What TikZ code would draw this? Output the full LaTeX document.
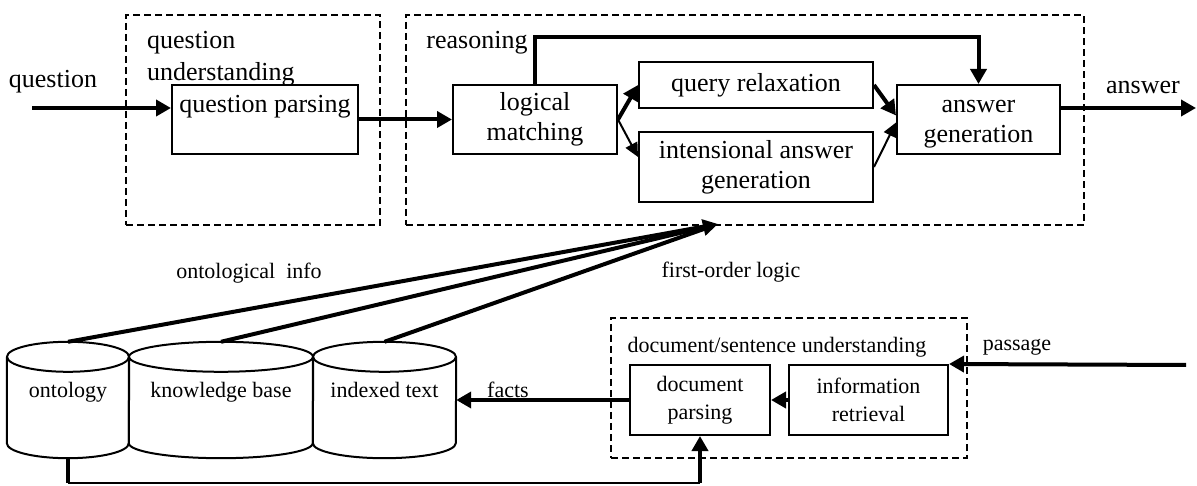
\documentclass[tikz,border=0pt]{standalone}
\usepackage{fontspec}
\setmainfont{Liberation Serif}
\usetikzlibrary{arrows.meta,calc}
\begin{document}
\begin{tikzpicture}[x=1pt,y=1pt,
  bigtext/.style={font=\fontsize{26}{30}\selectfont},
  smalltext/.style={font=\fontsize{22}{28}\selectfont},
  procbox/.style={draw,line width=2pt,inner sep=0pt,align=center},
  groupbox/.style={draw,line width=1.8pt,dash pattern=on 7pt off 4pt,inner sep=0pt},
  cylnode/.style={inner sep=0pt,smalltext,text height=15pt,text depth=21pt,minimum height=116pt},
  cylline/.style={line width=2pt,line join=round},
  thickarrow/.style={line width=4pt,-{Triangle[length=15pt,width=16pt]}},
  thinarrow/.style={line width=2pt,-{Triangle[length=14pt,width=13pt]}},
  thickline/.style={line width=4pt},
  plain/.style={inner sep=0pt}
]
\useasboundingbox (0,0) rectangle (1197,485);

% group boxes
\node[groupbox,minimum width=254pt,minimum height=210pt] (qu) at (253,365) {};
\node[groupbox,minimum width=678pt,minimum height=210pt] (rs) at (745,365) {};
\node[groupbox,minimum width=356pt,minimum height=140pt] (du) at (789,97) {};

% process boxes
\node[procbox,bigtext,minimum width=186pt,minimum height=69pt,text height=18pt,text depth=31pt] (qp) at (265,365.5) {question parsing};
\node[procbox,bigtext,minimum width=164pt,minimum height=69pt] (lm) at (535,365.5) {logical\\matching};
\node[procbox,bigtext,minimum width=234pt,minimum height=46pt] (qr) at (756,400) {query relaxation};
\node[procbox,bigtext,minimum width=234pt,minimum height=70pt] (iag) at (756,318) {intensional answer\\generation};
\node[procbox,bigtext,minimum width=163pt,minimum height=69pt] (ag) at (978.5,365.5) {\strut answer\\generation};
\node[procbox,smalltext,minimum width=140pt,minimum height=70pt] (dp) at (700,85) {document\\parsing};
\node[procbox,smalltext,minimum width=159pt,minimum height=70pt] (ir) at (868.5,85) {information\\retrieval};

% cylinders
\node[cylnode,minimum width=122pt] (onto) at (68,85) {ontology};
\node[cylnode,minimum width=184pt] (kb) at (221,85) {knowledge base};
\node[cylnode,minimum width=143pt] (it) at (384.5,85) {indexed text};
\foreach \c/\r in {onto/61,kb/92,it/71.5}{
  \draw[cylline] ($(\c.north west)+(0,-15)$) -- ($(\c.south west)+(0,15)$) arc[start angle=180,end angle=360,x radius=\r pt,y radius=15pt] -- ($(\c.north east)+(0,-15)$);
  \draw[cylline] ($(\c.north)+(0,-15)$) ellipse[x radius=\r pt,y radius=15pt];
}

% labels
\node[plain,bigtext] (lq) at (53,403) {question};
\node[plain,align=left,anchor=west,font=\fontsize{26}{32}\selectfont] (lqu) at (147,426) {question\\understanding};
\node[plain,bigtext] (lr) at (477,442) {reasoning};
\node[plain,bigtext] (la) at (1143,397) {answer};
\node[plain,smalltext] (loi) at (249,212) {ontological\ \ info};
\node[plain,smalltext] (lfol) at (731,213) {first-order logic};
\node[plain,smalltext] (ldu) at (777,138) {document/sentence understanding};
\node[plain,smalltext] (lp) at (1017,138) {passage};
\node[plain,smalltext] (lf) at (508,95) {facts};

% connectors
\coordinate (qin) at (32,377);
\draw[thickarrow] (qin) -- (qin -| qp.west);
\draw[thickarrow] (qp.east) -- (lm.west);
\draw[thickarrow] (lm.east) -- (qr.west);
\draw[thinarrow] (lm.east) -- ($(iag.west)+(0,10)$);
\draw[thickarrow] (qr.east) -- ($(ag.west)+(0,4)$);
\draw[thinarrow] (iag.east) -- ($(ag.west)+(0,-3)$);
\draw[thickarrow] (lm.north) -- ++(0,47) -| (ag.north);
\coordinate (aout) at (1196,377);
\draw[thickarrow] (ag.east |- aout) -- (aout);
\coordinate (fol) at (718,261);
\draw[thickline,shorten >=8pt] (onto.north) -- (fol);
\draw[thickline,shorten >=8pt] (it.north) -- (fol);
\draw[thickarrow] (kb.north) -- (fol);
\draw[thickarrow] (dp.west) -- (dp.west -| it.east);
\draw[thickarrow] (ir.west) -- (dp.east);
\coordinate (pin) at (1186,120);
\draw[thickarrow] (pin) -- (ir.north east);
\coordinate (b1) at (68,2);
\coordinate (b2) at (700,2);
\draw[thickline] (onto.south) -- (b1);
\draw[line width=1.5pt] (b1) -- (b2);
\draw[thickarrow] (b2) -- (dp.south);
\end{tikzpicture}
\end{document}
